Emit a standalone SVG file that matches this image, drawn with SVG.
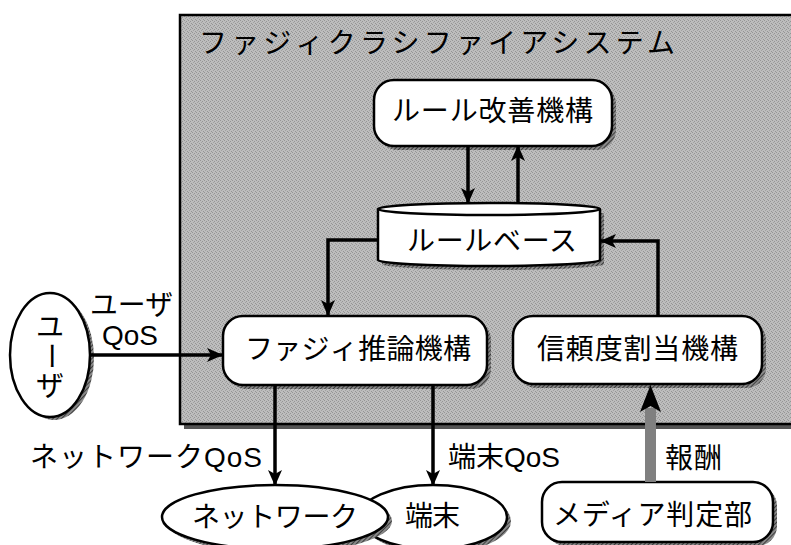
<svg xmlns="http://www.w3.org/2000/svg" width="791" height="545" viewBox="0 0 791 545">
<defs>
<pattern id="hatch" width="3" height="3" patternUnits="userSpaceOnUse" patternTransform="rotate(45)">
<rect width="3" height="3" fill="#8a8a8a"/>
<line x1="0" y1="0" x2="0" y2="3" stroke="#222" stroke-width="1.5"/>
</pattern>
<pattern id="grain" width="4" height="4" patternUnits="userSpaceOnUse">
<rect width="4" height="4" fill="#bdbdbd"/>
<rect x="0" y="0" width="1" height="1" fill="#959595"/>
<rect x="2" y="1" width="1" height="1" fill="#959595"/>
<rect x="1" y="2" width="1" height="1" fill="#a0a0a0"/>
<rect x="3" y="3" width="1" height="1" fill="#959595"/>
</pattern>
<marker id="ah" markerWidth="16" markerHeight="14" refX="15" refY="7" orient="auto" markerUnits="userSpaceOnUse">
<path d="M0,0 L16,7 L0,14 L4,7 Z" fill="#000"/>
</marker>
</defs>
<style>
.t{font-family:"Liberation Sans","Noto Sans CJK JP",sans-serif;font-size:28px;fill:#000}
.box{fill:#fff;stroke:#000;stroke-width:2.5}
.sh{fill:url(#hatch)}
.ln{fill:none;stroke:#000;stroke-width:3.5}
</style>

<g id="system">
<rect x="184" y="19" width="620" height="410" fill="#555"/>
<rect x="180" y="15" width="620" height="409" fill="url(#grain)" stroke="#000" stroke-width="2.5"/>
<text class="t" x="199" y="53" font-size="31" textLength="476" lengthAdjust="spacing">ファジィクラシファイアシステム</text>
</g>

<g id="rule-improve">
<rect class="sh" x="378" y="84" width="238" height="66" rx="20"/>
<rect class="box" x="374" y="80" width="238" height="66" rx="20"/>
<text class="t" x="392" y="121" textLength="201" lengthAdjust="spacing">ルール改善機構</text>
</g>

<g id="rulebase">
<path class="sh" d="M382,213 L382,264 A111,6 0 0 0 604,264 L604,213 Z"/>
<path class="box" d="M378,209 L378,260 A111,6 0 0 0 600,260 L600,209"/>
<ellipse class="box" cx="489" cy="209" rx="111" ry="6"/>
<text class="t" x="407" y="251" textLength="170" lengthAdjust="spacing">ルールベース</text>
</g>

<g id="fuzzy-inference">
<rect class="sh" x="227" y="320" width="264" height="69" rx="20"/>
<rect class="box" x="223" y="316" width="264" height="69" rx="20"/>
<text class="t" x="245" y="359" textLength="226" lengthAdjust="spacing">ファジィ推論機構</text>
</g>

<g id="reliability">
<rect class="sh" x="517" y="320" width="249" height="68" rx="20"/>
<rect class="box" x="513" y="316" width="249" height="68" rx="20"/>
<text class="t" x="537" y="359" textLength="201" lengthAdjust="spacing">信頼度割当機構</text>
</g>

<g id="user">
<ellipse class="sh" cx="54" cy="358" rx="40" ry="62"/>
<ellipse class="box" cx="50" cy="355" rx="40" ry="62"/>
<text class="t" x="50" y="337" text-anchor="middle">ユ</text>
<text class="t" x="50" y="356" text-anchor="middle" dominant-baseline="central" transform="rotate(90 50 356)">ー</text>
<text class="t" x="50" y="396" text-anchor="middle">ザ</text>
</g>

<g id="terminal">
<ellipse class="sh" cx="437" cy="521" rx="74" ry="32"/>
<ellipse class="box" cx="433" cy="517" rx="74" ry="32"/>
<text class="t" x="405" y="526" textLength="55" lengthAdjust="spacing">端末</text>
</g>

<g id="network">
<ellipse class="sh" cx="279" cy="521" rx="113" ry="32"/>
<ellipse class="box" cx="275" cy="517" rx="113" ry="32"/>
<text class="t" x="192" y="527" textLength="166" lengthAdjust="spacing">ネットワーク</text>
</g>

<g id="media">
<rect class="sh" x="546" y="486" width="231" height="60" rx="20"/>
<rect class="box" x="542" y="482" width="231" height="60" rx="20"/>
<text class="t" x="553" y="525" textLength="199" lengthAdjust="spacing">メディア判定部</text>
</g>

<g id="connectors">
<line class="ln" x1="468" y1="146" x2="468" y2="203" marker-end="url(#ah)"/>
<line class="ln" x1="518" y1="203" x2="518" y2="146" marker-end="url(#ah)"/>
<polyline class="ln" points="378,240 328,240 328,315" marker-end="url(#ah)"/>
<polyline class="ln" points="658,316 658,241 601,241" marker-end="url(#ah)"/>
<line class="ln" x1="90" y1="355" x2="222" y2="355" marker-end="url(#ah)"/>
<line class="ln" x1="275" y1="385" x2="275" y2="485" marker-end="url(#ah)"/>
<line class="ln" x1="433" y1="385" x2="433" y2="485" marker-end="url(#ah)"/>
<rect x="645" y="408" width="11" height="74" fill="#808080"/>
<path d="M650.5,385 L661,412 L650.5,406 L640,412 Z" fill="#000"/>
<text class="t" x="102" y="345" textLength="56" lengthAdjust="spacingAndGlyphs">QoS</text>
<text class="t" x="90" y="315" textLength="83" lengthAdjust="spacingAndGlyphs">ユーザ</text>
<text class="t" x="30" y="467" textLength="232" lengthAdjust="spacing">ネットワークQoS</text>
<text class="t" x="448" y="467" textLength="112" lengthAdjust="spacing">端末QoS</text>
<text class="t" x="665" y="468" textLength="57" lengthAdjust="spacing">報酬</text>
</g>
</svg>
